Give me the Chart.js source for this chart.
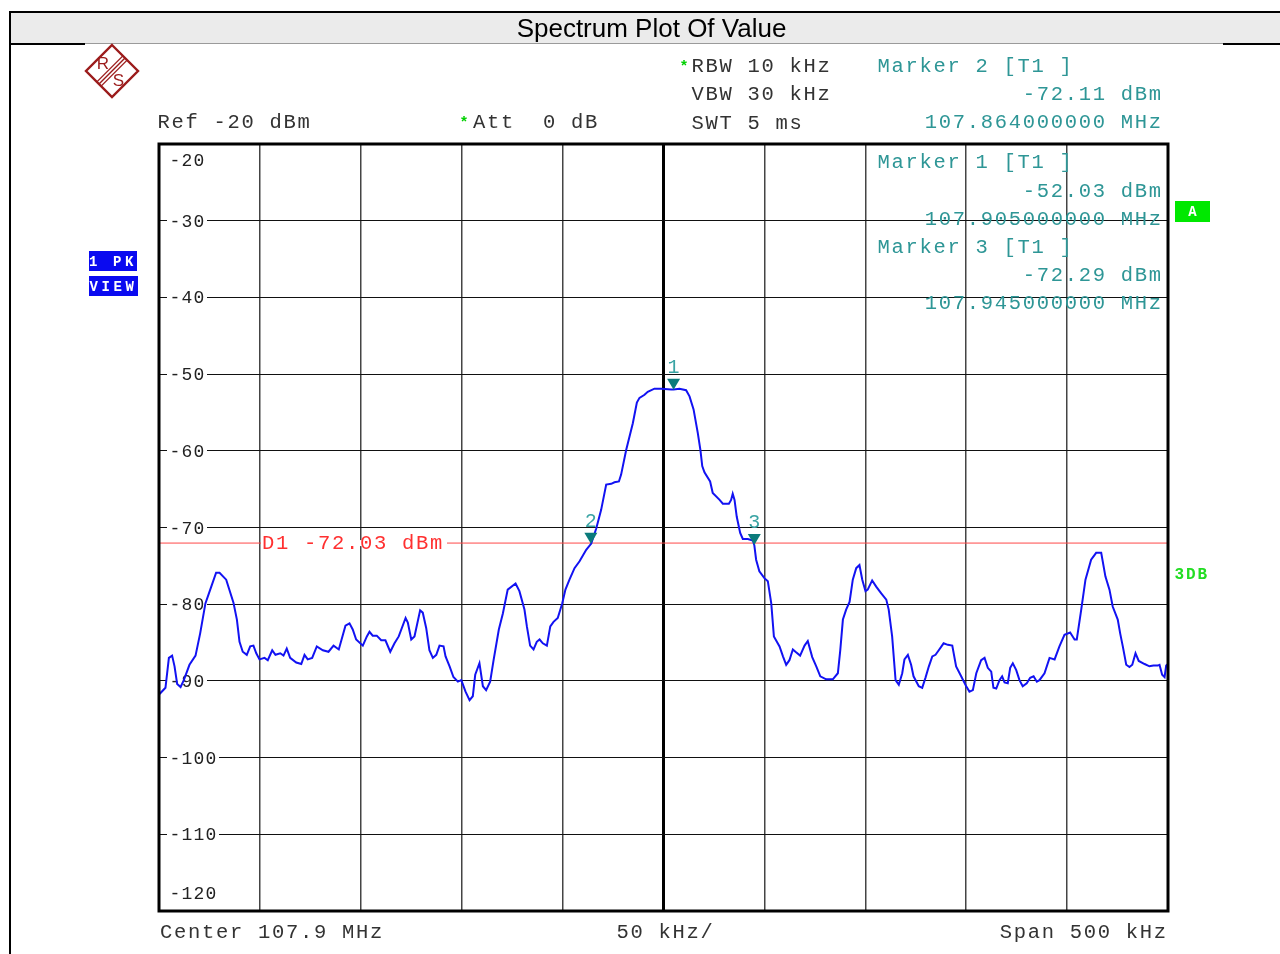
<!DOCTYPE html>
<html>
<head>
<meta charset="utf-8">
<script src="https://cdn.jsdelivr.net/npm/chart.js@4.4.1/dist/chart.umd.min.js"></script>
<style>
html,body{margin:0;padding:0;background:#fff;width:1280px;height:954px;overflow:hidden}
canvas{display:block}
</style>
</head>
<body>
<canvas id="c" width="1280" height="954"></canvas>
<script>
// ---------- data ----------
const chartTitle = 'Spectrum Plot Of Value';
const startMHz = 107.65;
const stopMHz = 108.15;
const centerMHz = 107.9;
const divMHz = 0.05;
const refLevelDbm = -20;
const bottomLevelDbm = -120;
const yTickLabels = ['-20','-30','-40','-50','-60','-70','-80','-90','-100','-110','-120'];
const yTickValues = [-20,-30,-40,-50,-60,-70,-80,-90,-100,-110,-120];

const traceFreqMHz = [
107.6503,107.6532,107.6549,107.6565,107.6577,107.6590,107.6607,107.6623,107.6651,107.6681,
107.6704,107.6730,107.6759,107.6783,107.6800,107.6833,107.6869,107.6886,107.6899,107.6915,
107.6935,107.6952,107.6968,107.6982,107.6998,107.7023,107.7039,107.7061,107.7077,107.7101,
107.7117,107.7133,107.7150,107.7180,107.7205,107.7221,107.7237,107.7259,107.7282,107.7312,
107.7340,107.7365,107.7391,107.7424,107.7444,107.7460,107.7477,107.7510,107.7530,107.7543,
107.7559,107.7579,107.7601,107.7622,107.7646,107.7667,107.7688,107.7722,107.7733,107.7750,
107.7766,107.7794,107.7807,107.7824,107.7840,107.7857,107.7874,107.7890,107.7910,107.7920,
107.7940,107.7959,107.7981,107.7998,107.8019,107.8039,107.8055,107.8067,107.8088,107.8105,
107.8121,107.8141,107.8158,107.8184,107.8204,107.8228,107.8267,107.8286,107.8311,107.8323,
107.8339,107.8356,107.8372,107.8386,107.8402,107.8422,107.8439,107.8455,107.8476,107.8498,
107.8514,107.8534,107.8559,107.8584,107.8617,107.8642,107.8667,107.8691,107.8716,107.8741,
107.8757,107.8779,107.8790,107.8815,107.8848,107.8868,107.8881,107.8906,107.8922,107.8955,
107.8989,107.9038,107.9050,107.9079,107.9112,107.9129,107.9149,107.9170,107.9183,107.9192,
107.9203,107.9231,107.9244,107.9278,107.9294,107.9324,107.9335,107.9343,107.9352,107.9363,
107.9380,107.9393,107.9418,107.9443,107.9450,107.9459,107.9475,107.9500,107.9517,107.9534,
107.9547,107.9575,107.9592,107.9608,107.9624,107.9641,107.9654,107.9677,107.9699,107.9715,
107.9737,107.9757,107.9777,107.9806,107.9839,107.9864,107.9876,107.9889,107.9905,107.9922,
107.9938,107.9955,107.9971,107.9985,108.0001,108.0012,108.0034,108.0054,108.0079,108.0104,
108.0116,108.0133,108.0150,108.0166,108.0183,108.0194,108.0211,108.0227,108.0239,108.0265,
108.0282,108.0298,108.0315,108.0332,108.0348,108.0364,108.0388,108.0409,108.0431,108.0450,
108.0475,108.0500,108.0516,108.0533,108.0550,108.0574,108.0591,108.0607,108.0624,108.0635,
108.0649,108.0665,108.0678,108.0690,108.0706,108.0718,108.0731,108.0748,108.0764,108.0780,
108.0800,108.0817,108.0834,108.0850,108.0863,108.0888,108.0913,108.0938,108.0962,108.0987,
108.1015,108.1037,108.1048,108.1070,108.1091,108.1119,108.1144,108.1169,108.1190,108.1210,
108.1226,108.1251,108.1263,108.1276,108.1293,108.1309,108.1323,108.1339,108.1355,108.1384,
108.1408,108.1428,108.1449,108.1458,108.1471,108.1483,108.1491,108.1500
];
const traceLevelDbm = [
-91.7,-90.9,-87.0,-86.7,-88.1,-90.4,-90.8,-89.9,-87.9,-86.7,
-83.8,-79.9,-77.7,-75.9,-75.9,-76.8,-79.8,-82.0,-84.9,-86.2,
-86.6,-85.5,-85.4,-86.4,-87.2,-87.0,-87.3,-86.0,-86.6,-86.4,
-86.7,-85.8,-87.0,-87.6,-87.8,-86.6,-87.2,-87.0,-85.5,-86.0,
-86.2,-85.4,-85.9,-82.8,-82.5,-83.3,-84.6,-85.4,-84.2,-83.6,
-84.1,-84.1,-84.7,-84.7,-86.2,-85.1,-84.2,-81.8,-82.4,-84.6,
-84.2,-80.8,-81.1,-83.1,-86.0,-87.0,-86.6,-85.4,-85.5,-86.8,
-88.1,-89.5,-90.1,-89.9,-91.4,-92.5,-92.0,-89.2,-87.7,-90.7,
-91.2,-90.1,-87.3,-83.3,-81.2,-78.1,-77.3,-78.3,-80.7,-82.9,
-85.4,-85.9,-84.9,-84.6,-85.1,-85.4,-82.9,-82.3,-81.8,-79.9,
-78.1,-76.8,-75.3,-74.4,-72.9,-72.1,-70.1,-67.7,-64.4,-64.3,
-64.1,-64.0,-63.1,-59.9,-56.4,-53.7,-53.1,-52.7,-52.3,-51.9,
-51.9,-52.0,-52.0,-51.9,-52.1,-52.9,-54.6,-57.7,-59.9,-62.0,
-62.8,-64.0,-65.5,-66.4,-66.9,-66.9,-66.4,-65.6,-66.4,-68.6,
-70.7,-71.5,-71.5,-71.7,-72.3,-74.2,-75.7,-76.6,-77.0,-79.9,
-84.2,-85.5,-86.8,-87.9,-87.3,-85.9,-86.2,-86.7,-85.4,-84.8,
-86.9,-88.1,-89.4,-89.8,-89.8,-89.0,-86.0,-82.0,-80.7,-79.7,
-76.8,-75.3,-74.9,-76.8,-78.3,-78.1,-76.9,-77.7,-78.6,-79.4,
-80.7,-84.2,-89.9,-90.5,-89.0,-87.2,-86.6,-87.9,-89.4,-90.7,
-90.9,-89.6,-88.1,-86.8,-86.6,-86.0,-85.1,-85.3,-85.4,-88.1,
-89.4,-90.7,-91.4,-91.2,-89.0,-87.3,-87.0,-88.3,-88.8,-90.9,
-91.0,-89.9,-89.4,-90.2,-90.3,-88.3,-87.7,-88.6,-89.9,-90.7,
-90.3,-89.6,-89.4,-90.1,-89.9,-89.0,-87.0,-87.2,-85.5,-84.0,
-83.7,-84.6,-84.6,-80.7,-76.8,-74.2,-73.3,-73.3,-76.4,-78.1,
-80.3,-82.0,-83.8,-85.5,-87.9,-88.2,-87.9,-86.4,-87.4,-87.8,
-88.1,-88.0,-88.0,-87.9,-89.2,-89.5,-88.0,-87.8
];

const markerIds = ['1','2','3'];
const markerFreqMHz = [107.905, 107.864, 107.945];
const markerLevelDbm = [-52.03, -72.11, -72.29];
const displayLineDbm = -72.03;
const displayLineLabel = 'D1 -72.03 dBm';

const headerLines = ['RBW 10 kHz','VBW 30 kHz','SWT 5 ms'];
const refText = 'Ref -20 dBm';
const attText = 'Att  0 dB';
const marker2Lines = ['Marker 2 [T1 ]','-72.11 dBm','107.864000000 MHz'];
const marker1Lines = ['Marker 1 [T1 ]','-52.03 dBm','107.905000000 MHz'];
const marker3Lines = ['Marker 3 [T1 ]','-72.29 dBm','107.945000000 MHz'];
const bottomLeft = 'Center 107.9 MHz';
const bottomMid = '50 kHz/';
const bottomRight = 'Span 500 kHz';
const traceTag = ['1 PK','VIEW'];
const traceIdTag = 'A';
const sideTag = '3DB';

// ---------- styles ----------
const MONO = '"Liberation Mono", "DejaVu Sans Mono", monospace';
const TEAL = '#2e9696';
const GREY_TXT = '#333333';
const FS = 20.5;

function monoText(ctx, text, x, baseline, sizePx, adv, color, bold, alignRight) {
  ctx.save();
  ctx.font = (bold ? 'bold ' : '') + sizePx + 'px ' + MONO;
  ctx.fillStyle = color;
  ctx.textBaseline = 'alphabetic';
  const natural = ctx.measureText('M').width;
  const spacing = adv - natural;
  const n = text.length;
  let x0 = alignRight ? x - n * adv + spacing : x;
  if ('letterSpacing' in ctx) {
    ctx.letterSpacing = spacing + 'px';
    ctx.textAlign = 'left';
    ctx.fillText(text, x0, baseline);
  } else {
    ctx.textAlign = 'center';
    for (let i = 0; i < n; i++) ctx.fillText(text[i], x0 + i * adv + natural / 2, baseline);
  }
  ctx.restore();
}

const decor = {
  id: 'decor',
  beforeDraw(chart) {
    const ctx = chart.ctx;
    ctx.save();
    ctx.fillStyle = '#fff';
    ctx.fillRect(0, 0, 1280, 954);
    // title bar
    ctx.fillStyle = '#ebebeb';
    ctx.fillRect(10, 12, 1270, 32);
    ctx.fillStyle = '#000';
    ctx.fillRect(10, 11, 1270, 2);
    ctx.fillRect(9, 11, 2, 943);
    ctx.fillStyle = '#9a9a9a';
    ctx.fillRect(85, 43, 1138, 1);
    ctx.fillStyle = '#000';
    ctx.fillRect(10, 43, 75, 2);
    ctx.fillRect(1223, 43, 57, 2);
    ctx.font = '26px "Liberation Sans", Arial, sans-serif';
    ctx.fillStyle = '#000';
    ctx.textAlign = 'center';
    ctx.textBaseline = 'alphabetic';
    ctx.fillText(chartTitle, 651.5, 37);
    // logo
    const red = '#9b1b1b';
    ctx.strokeStyle = red;
    ctx.lineWidth = 2.4;
    ctx.beginPath();
    ctx.moveTo(112, 45); ctx.lineTo(138, 71); ctx.lineTo(112, 97); ctx.lineTo(86, 71); ctx.closePath();
    ctx.stroke();
    ctx.lineWidth = 1.4;
    for (const o of [-3, 0, 3]) {
      ctx.beginPath();
      ctx.moveTo(125 + o * 0.707, 58 + o * 0.707);
      ctx.lineTo(99 + o * 0.707, 84 + o * 0.707);
      ctx.stroke();
    }
    ctx.fillStyle = red;
    ctx.font = '17px "Liberation Sans", Arial, sans-serif';
    ctx.textAlign = 'center';
    ctx.fillText('R', 103, 69);
    ctx.fillText('S', 118.5, 86);
    ctx.restore();

    // header texts
    monoText(ctx, refText, 157.5, 128, FS, 14, GREY_TXT);
    monoText(ctx, attText, 473, 128, FS, 14, GREY_TXT);
    headerLines.forEach((t, i) => monoText(ctx, t, 691.5, 72 + i * 28.3, FS, 14, GREY_TXT));
    // green stars
    ctx.save();
    ctx.fillStyle = '#00d000';
    ctx.font = 'bold 15px ' + MONO;
    ctx.textAlign = 'center';
    ctx.fillText('*', 684, 71);
    ctx.fillText('*', 464, 127);
    ctx.restore();
    // marker 2 readout (outside grid)
    monoText(ctx, marker2Lines[0], 877.5, 71.7, FS, 14, TEAL);
    monoText(ctx, marker2Lines[1], 1161, 100, FS, 14, TEAL, false, true);
    monoText(ctx, marker2Lines[2], 1161, 128.3, FS, 14, TEAL, false, true);

    // trace tags
    ctx.save();
    ctx.fillStyle = '#0a0af0';
    ctx.fillRect(89, 251, 48, 20);
    ctx.fillRect(89, 276, 49, 20);
    ctx.fillStyle = '#00e800';
    ctx.fillRect(1175, 201, 35, 21);
    ctx.restore();
    monoText(ctx, traceTag[0], 89, 266, 14, 12, '#fff', true);
    monoText(ctx, traceTag[1], 89.5, 291, 14, 12, '#fff', true);
    ctx.save();
    ctx.fillStyle = '#fff';
    ctx.font = 'bold 14px ' + MONO;
    ctx.textAlign = 'center';
    ctx.fillText(traceIdTag, 1192.5, 216);
    ctx.restore();
    monoText(ctx, sideTag, 1174.5, 579, 16, 11.5, '#22dd22', true);

    // bottom labels
    monoText(ctx, bottomLeft, 160, 938, FS, 14, GREY_TXT);
    monoText(ctx, bottomMid, 616.5, 938, FS, 14, GREY_TXT);
    monoText(ctx, bottomRight, 1166, 938, FS, 14, GREY_TXT, false, true);
  },
  beforeDatasetsDraw(chart) {
    const ctx = chart.ctx;
    const y = chart.scales.y;
    const area = chart.chartArea;
    yTickValues.forEach((v, i) => {
      const label = yTickLabels[i];
      let py = y.getPixelForValue(v);
      let base;
      if (i === 0) base = py + 22;
      else if (i === yTickValues.length - 1) base = py - 12;
      else {
        ctx.save();
        ctx.fillStyle = '#fff';
        ctx.fillRect(area.left + 8, py - 3, label.length * 12 + 4, 6);
        ctx.restore();
        base = py + 6;
      }
      monoText(ctx, label, 169.5, base, 18, 12, '#222');
    });
  },
  afterDatasetsDraw(chart) {
    const ctx = chart.ctx;
    const xs = chart.scales.x, ys = chart.scales.y;
    const area = chart.chartArea;
    // D1 label
    const dy = ys.getPixelForValue(displayLineDbm);
    ctx.save();
    ctx.fillStyle = '#fff';
    ctx.fillRect(261, dy - 3, 186, 6);
    ctx.restore();
    monoText(ctx, displayLineLabel, 262, dy + 6, FS, 14, '#ff3030');
    // frame
    ctx.save();
    ctx.strokeStyle = '#000';
    ctx.lineWidth = 3;
    ctx.strokeRect(area.left, area.top, area.right - area.left, area.bottom - area.top);
    ctx.restore();
    // markers
    markerIds.forEach((id, i) => {
      const px = xs.getPixelForValue(markerFreqMHz[i]);
      const py = ys.getPixelForValue(markerLevelDbm[i]);
      ctx.save();
      ctx.fillStyle = '#0b7b7b';
      ctx.beginPath();
      ctx.moveTo(px - 6.5, py - 11);
      ctx.lineTo(px + 6.5, py - 11);
      ctx.lineTo(px, py);
      ctx.closePath();
      ctx.fill();
      ctx.fillStyle = '#3aa4a4';
      ctx.font = '20px ' + MONO;
      ctx.textAlign = 'center';
      ctx.textBaseline = 'alphabetic';
      ctx.fillText(id, px, py - 17);
      ctx.restore();
    });
    // marker readouts inside plot
    monoText(ctx, marker1Lines[0], 877.5, 168.3, FS, 14, TEAL);
    monoText(ctx, marker1Lines[1], 1161, 196.7, FS, 14, TEAL, false, true);
    monoText(ctx, marker1Lines[2], 1161, 225, FS, 14, TEAL, false, true);
    monoText(ctx, marker3Lines[0], 877.5, 252.7, FS, 14, TEAL);
    monoText(ctx, marker3Lines[1], 1161, 281, FS, 14, TEAL, false, true);
    monoText(ctx, marker3Lines[2], 1161, 309.3, FS, 14, TEAL, false, true);
  }
};

const traceData = traceFreqMHz.map((f, i) => ({ x: f, y: traceLevelDbm[i] }));
const d1Data = [{ x: startMHz, y: displayLineDbm }, { x: stopMHz, y: displayLineDbm }];
const xGridMHz = Array.from({ length: 11 }, (_, i) => +(startMHz + i * divMHz).toFixed(3));
const yGridDbm = yTickValues.slice();

new Chart(document.getElementById('c').getContext('2d'), {
  type: 'scatter',
  data: {
    datasets: [
      { label: 'Trace 1', data: traceData, showLine: true, borderColor: '#1212f2', borderWidth: 2,
        pointRadius: 0, tension: 0, order: 1 },
      { label: 'D1', data: d1Data, showLine: true, borderColor: '#ff4848', borderWidth: 1,
        pointRadius: 0, order: 2 }
    ]
  },
  options: {
    responsive: false,
    animation: false,
    devicePixelRatio: 1,
    layout: { padding: { left: 159, top: 144, right: 112, bottom: 43 } },
    plugins: { legend: { display: false }, tooltip: { enabled: false }, title: { display: false } },
    scales: {
      x: {
        type: 'linear', min: startMHz, max: stopMHz,
        afterBuildTicks: s => { s.ticks = xGridMHz.map(v => ({ value: v })); },
        afterFit: s => { s.height = 0; },
        ticks: { display: false },
        border: { display: false },
        grid: {
          drawTicks: false,
          color: c => Math.abs(c.tick.value - centerMHz) < 1e-6 ? '#000' : '#444',
          lineWidth: c => Math.abs(c.tick.value - centerMHz) < 1e-6 ? 3 : 1.5
        }
      },
      y: {
        type: 'linear', min: bottomLevelDbm, max: refLevelDbm,
        afterBuildTicks: s => { s.ticks = yGridDbm.map(v => ({ value: v })); },
        afterFit: s => { s.width = 0; },
        ticks: { display: false },
        border: { display: false },
        grid: { drawTicks: false, color: '#111', lineWidth: 1 }
      }
    }
  },
  plugins: [decor]
});
</script>
</body>
</html>
